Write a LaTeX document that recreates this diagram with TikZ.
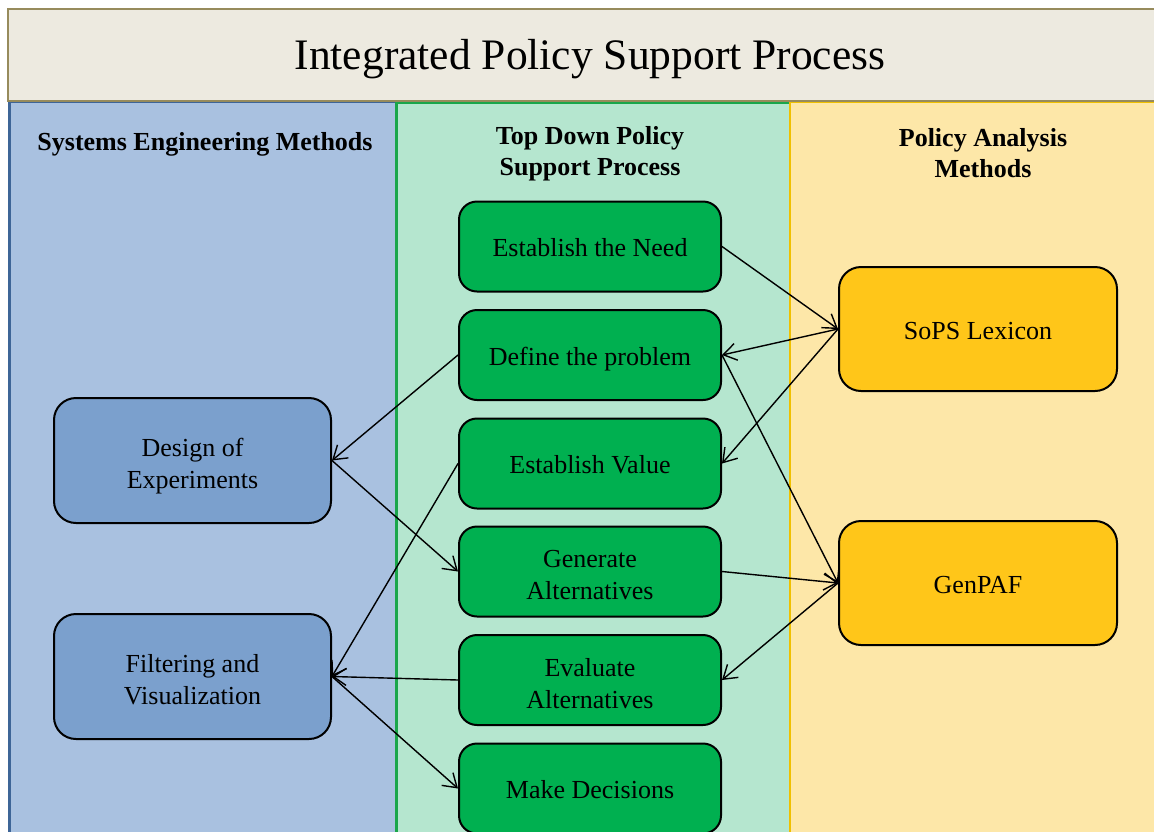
\documentclass[tikz,border=0pt]{standalone}
\usepackage{fontspec}
\setmainfont{Liberation Serif}
\usetikzlibrary{arrows.meta}

\definecolor{titlefill}{HTML}{EDEAE0}
\definecolor{titleline}{HTML}{978B5C}
\definecolor{sefill}{HTML}{A9C1E0}
\definecolor{seline}{HTML}{3E6597}
\definecolor{tdfill}{HTML}{B5E6CF}
\definecolor{tdline}{HTML}{1AA64A}
\definecolor{pafill}{HTML}{FDE7A8}
\definecolor{paline}{HTML}{F0C000}
\definecolor{stepgreen}{HTML}{00B050}
\definecolor{methblue}{HTML}{7BA0CD}
\definecolor{methgold}{HTML}{FFC619}

% line struts so the text sits at the same place in every box
\newcommand{\boxstrut}{\rule[-6pt]{0pt}{32pt}}
\newcommand{\topstrut}{\rule[-6pt]{0pt}{36pt}}

\tikzset{
  every node/.style={font=\fontsize{26}{32}\selectfont, text=black},
  header/.style={font=\fontsize{26}{31}\selectfont\bfseries, align=center},
  procbox/.style={draw=black, line width=2pt, rounded corners=18pt,
    fill=stepgreen, minimum width=262pt, minimum height=90pt, align=center},
  sebox/.style={draw=black, line width=2pt, rounded corners=22pt,
    fill=methblue, minimum width=277pt, minimum height=125pt, align=center},
  pabox/.style={draw=black, line width=2pt, rounded corners=22pt,
    fill=methgold, minimum width=278pt, minimum height=124pt, align=center},
  link/.style={line width=1.4pt, -{Straight Barb[length=13pt,width=17pt,line width=1.4pt]}},
}

\begin{document}
\begin{tikzpicture}[x=1pt,y=-1pt]
\useasboundingbox (0,0) rectangle (1154,831);
\clip (0,0) rectangle (1154,831);
\fill[white] (0,0) rectangle (1154,831);

% swim lanes
\draw[fill=sefill, draw=seline, line width=3pt] (9,101) rectangle (396,850);
\draw[fill=tdfill, draw=tdline, line width=3pt] (396,102) rectangle (790,850);
\draw[fill=pafill, draw=paline, line width=1.5pt] (790,102) rectangle (1170,850);

% banner
\draw[fill=titlefill, draw=titleline, line width=2pt] (8,9) rectangle (1170,101);
\node (title) at (590,59) {\fontsize{43.5}{50}\selectfont Integrated Policy Support Process};

% lane headings
\node[header] (hse) at (205,144) {Systems Engineering Methods};
\node[header] (htd) at (590,154) {Top Down Policy\\Support Process};
\node[header] (hpa) at (983,153.5) {Policy Analysis\\Methods};

% process steps
\node[procbox] (need) at (590,246.5) {\boxstrut Establish the Need};
\node[procbox] (prob) at (590,355) {\boxstrut Define the problem};
\node[procbox] (val)  at (590,463.5) {\boxstrut Establish Value};
\node[procbox] (gen)  at (590,571.5) {\topstrut Generate\\\boxstrut Alternatives};
\node[procbox] (eval) at (590,680) {\topstrut Evaluate\\\boxstrut Alternatives};
\node[procbox] (dec)  at (590,788.5) {\boxstrut Make Decisions};

% systems engineering methods
\node[sebox] (doe) at (192.5,460.5) {\topstrut Design of\\\boxstrut Experiments};
\node[sebox] (fv)  at (192.5,676.5) {\topstrut Filtering and\\\boxstrut Visualization};

% policy analysis methods
\node[pabox] (sops)   at (978,329) {\boxstrut SoPS Lexicon};
\node[pabox] (genpaf) at (978,583) {\boxstrut GenPAF};

% links
\draw[link] (need.east) -- (sops.west);
\draw[link] (sops.west) -- (prob.east);
\draw[link] (sops.west) -- (val.east);
\draw[link] (prob.east) -- (genpaf.west);
\draw[link] (gen.east) -- (genpaf.west);
\draw[link] (genpaf.west) -- (eval.east);
\draw[link] (prob.west) -- (doe.east);
\draw[link] (doe.east) -- (gen.west);
\draw[link] (val.west) -- (fv.east);
\draw[link] (eval.west) -- (fv.east);
\draw[link] (fv.east) -- (dec.west);
\end{tikzpicture}
\end{document}
